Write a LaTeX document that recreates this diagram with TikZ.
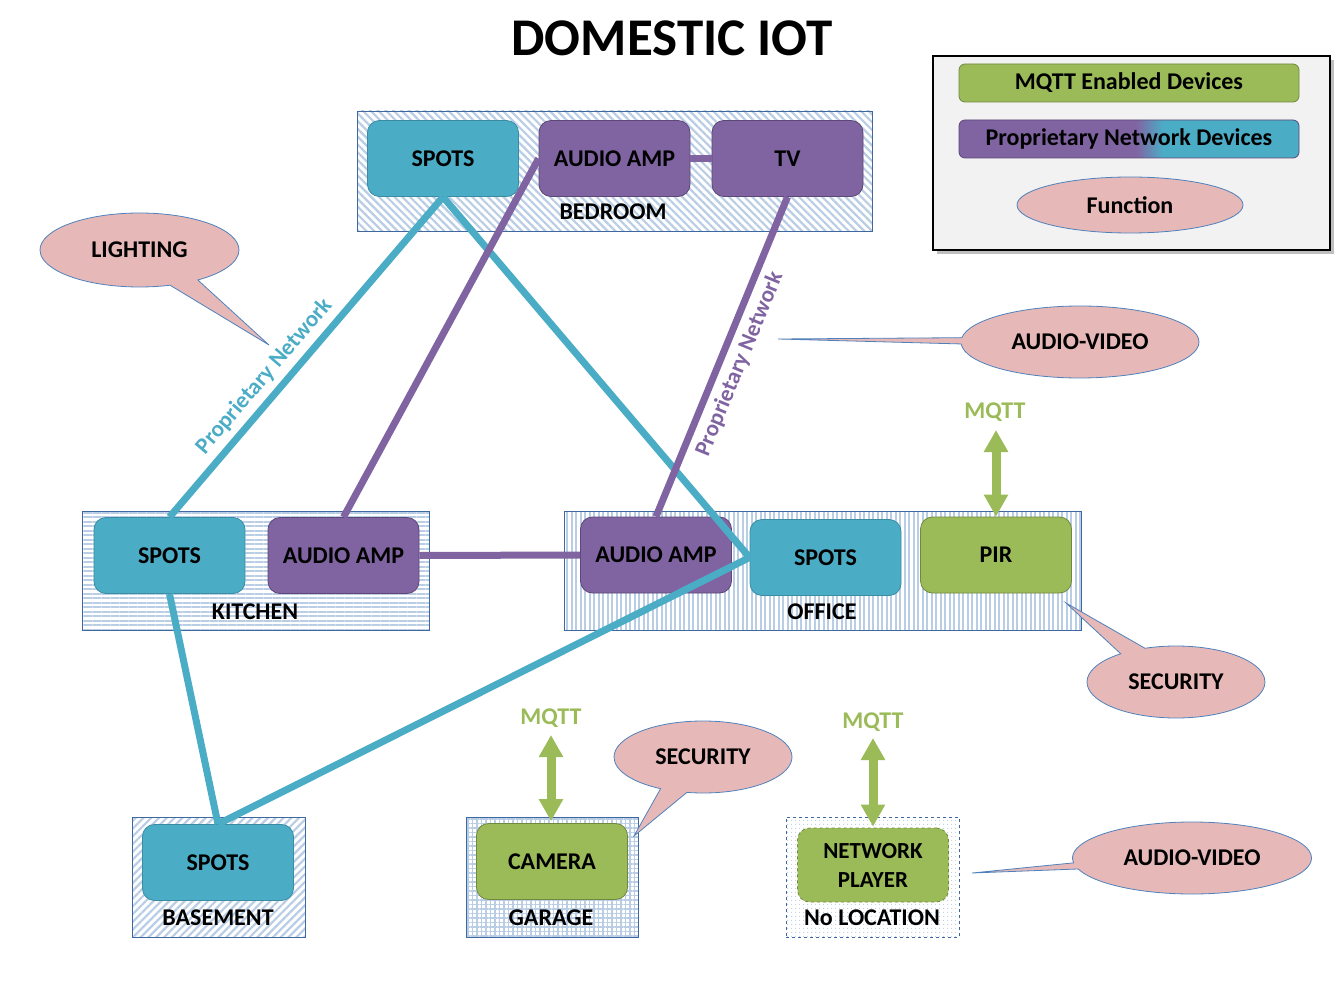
\documentclass[tikz,border=0pt]{standalone}
\usepackage{fontspec}
\setmainfont{Carlito}
\usetikzlibrary{arrows.meta,patterns.meta,shapes.callouts,shapes.geometric,shadows}
\definecolor{cblue}{HTML}{4BACC6}
\definecolor{cbluedk}{HTML}{3A8CA3}
\definecolor{cpurple}{HTML}{8064A2}
\definecolor{cpurpdk}{HTML}{5C4776}
\definecolor{cgreen}{HTML}{9BBB59}
\definecolor{cgreendk}{HTML}{71893F}
\definecolor{cpink}{HTML}{E6B9B8}
\definecolor{cedge}{HTML}{4F81BD}
\definecolor{cpat}{HTML}{B9CDE5}
\definecolor{cbox}{HTML}{3F67A0}
\definecolor{clegbg}{HTML}{F2F2F2}
\pgfdeclarehorizontalshading{propshade}{100bp}{color(0bp)=(cpurple); color(51bp)=(cpurple); color(55bp)=(cblue); color(100bp)=(cblue)}
\tikzset{
 dev/.style={rectangle, rounded corners=12pt, minimum width=151pt, minimum height=76pt, line width=0.8pt, font=\bfseries\fontsize{24}{26}\selectfont, text=black, inner sep=0pt, align=center},
 spotsbox/.style={dev, fill=cblue, draw=cbluedk},
 purpbox/.style={dev, fill=cpurple, draw=cpurpdk},
 greenbox/.style={dev, fill=cgreen, draw=cgreendk},
 room/.style={rectangle, draw=cbox, line width=0.8pt, inner sep=0pt},
 roomlabel/.style={font=\bfseries\fontsize{24}{26}\selectfont, inner sep=0pt},
 bluelink/.style={draw=cblue, line width=7pt},
 purplink/.style={draw=cpurple, line width=7pt},
 mqttarrow/.style={draw=cgreen, line width=9pt, {Triangle[width=23pt,length=22pt]}-{Triangle[width=23pt,length=22pt]}},
 mqttlabel/.style={text=cgreen, font=\bfseries\fontsize{24}{26}\selectfont, inner sep=0pt},
 func/.style={ellipse callout, callout pointer arc=18, fill=cpink, draw=cedge, line width=0.8pt, font=\bfseries\fontsize{24}{26}\selectfont, inner sep=0pt},
 netlabel/.style={font=\bfseries\fontsize{23}{26}\selectfont, sloped, inner sep=6pt},
 legitem/.style={rectangle, rounded corners=6pt, minimum width=340pt, minimum height=38pt, line width=0.8pt, font=\bfseries\fontsize{24}{26}\selectfont, inner sep=0pt},
}
\begin{document}
\begin{tikzpicture}[x=1pt,y=-1pt]
\useasboundingbox (0,0) rectangle (1344,1008);
% title
\node[font=\bfseries\fontsize{53}{58}\selectfont, inner sep=0pt] (title) at (672,38) {DOMESTIC IOT};
% legend
\node[rectangle, minimum width=397pt, minimum height=194pt, fill=clegbg, draw=black, line width=1.2pt,
  drop shadow={shadow xshift=4pt, shadow yshift=-4pt, opacity=0.5, fill=gray}] (legend) at (1131.5,153) {};
\node[legitem, fill=cgreen, draw=cgreendk] (legmqtt) at (1129,83) {MQTT Enabled Devices};
\node[legitem, shade, shading=propshade, draw=cpurpdk] (legprop) at (1129,139) {Proprietary Network Devices};
\node[ellipse, minimum width=226pt, minimum height=56pt, fill=cpink, draw=cedge, line width=0.8pt, inner sep=0pt, font=\bfseries\fontsize{24}{26}\selectfont] (legfunc) at (1130,205) {Function};
% rooms
\node[room, minimum width=515pt, minimum height=120pt, pattern={Lines[angle=-45, distance=5.5pt, line width=2.2pt]}, pattern color=cpat] (bedroom) at (614.5,171) {};
\node[room, minimum width=347pt, minimum height=119pt, pattern={Lines[angle=0, distance=4.5pt, line width=2pt]}, pattern color=cpat] (kitchen) at (255.5,570.5) {};
\node[room, minimum width=517pt, minimum height=119pt, pattern={Lines[angle=90, distance=4.5pt, line width=2pt]}, pattern color=cpat] (office) at (822.5,570.5) {};
\node[room, minimum width=173pt, minimum height=120pt, pattern={Lines[angle=45, distance=5.5pt, line width=2.2pt]}, pattern color=cpat] (basement) at (218.5,877) {};
\node[room, minimum width=172pt, minimum height=120pt, pattern={Hatch[angle=0, distance=4.5pt, line width=1.2pt]}, pattern color=cpat] (garage) at (552,877) {};
\node[room, dashed, minimum width=173pt, minimum height=120pt, pattern={Dots[distance=4pt, radius=0.7pt]}, pattern color=cpat] (noloc) at (872.5,877) {};
% devices
\node[spotsbox] (bspots) at (443,158.5) {SPOTS};
\node[purpbox] (bamp) at (614.5,158.5) {AUDIO AMP};
\node[purpbox] (tv) at (787.5,158.5) {TV};
\node[spotsbox] (kspots) at (169.5,555.5) {SPOTS};
\node[purpbox] (kamp) at (343.5,555.5) {AUDIO AMP};
\node[purpbox] (oamp) at (656,555) {AUDIO AMP};
\node[spotsbox] (ospots) at (825.5,557.5) {SPOTS};
\node[greenbox] (pir) at (996,555) {PIR};
\node[spotsbox] (bsspots) at (218,862.5) {SPOTS};
\node[greenbox] (camera) at (552,861.5) {CAMERA};
\node[greenbox, dashed, minimum height=74pt, font=\bfseries\fontsize{23}{29}\selectfont] (player) at (873,865) {NETWORK\\PLAYER};
% links
\draw[bluelink] (kspots.north) -- node[netlabel, pos=0.4, above, text=cblue] (netlab1) {Proprietary Network} (bspots.south);
\draw[bluelink] (bspots.south) -- (ospots.west);
\draw[purplink] (bamp.west) -- (kamp.north);
\draw[purplink] (oamp.north) -- node[netlabel, pos=0.5, below, text=cpurple] (netlab2) {Proprietary Network} (tv.south);
\draw[purplink] (bamp.east) -- (tv.west);
\draw[purplink] (kamp.east) -- (oamp.west);
\draw[bluelink] (kspots.south) -- (bsspots.north);
\draw[bluelink] (bsspots.north) -- (ospots.west);
% room labels
\node[roomlabel] (lbedroom) at (613,212) {BEDROOM};
\node[roomlabel] (lkitchen) at (255,612) {KITCHEN};
\node[roomlabel] (loffice) at (822,612) {OFFICE};
\node[roomlabel] (lbasement) at (218,918) {BASEMENT};
\node[roomlabel] (lgarage) at (551,918) {GARAGE};
\node[roomlabel] (lnoloc) at (872,918) {No LOCATION};
% MQTT
\node[mqttlabel] (mq1) at (995,412) {MQTT};
\coordinate (mq1end) at (996,430);
\draw[mqttarrow] (mq1end) -- (pir.north);
\node[mqttlabel] (mq2) at (551,718) {MQTT};
\coordinate (mq2end) at (551,735);
\draw[mqttarrow] (mq2end) -- ([xshift=-1pt,yshift=2pt]camera.north);
\node[mqttlabel] (mq3) at (873,722) {MQTT};
\coordinate (mq3end) at (873,738);
\draw[mqttarrow] (mq3end) -- ([yshift=1pt]player.north);
% functions
\node[func, minimum width=199pt, minimum height=74pt, callout absolute pointer={(269,345)}] (lighting) at (139.5,250) {LIGHTING};
\node[func, minimum width=238pt, minimum height=72pt, callout absolute pointer={(778,339)}, callout pointer arc=10] (av1) at (1080,342) {AUDIO-VIDEO};
\node[func, minimum width=178pt, minimum height=72pt, callout absolute pointer={(1066,603)}] (sec1) at (1176,682) {SECURITY};
\node[func, minimum width=178pt, minimum height=72pt, callout absolute pointer={(634,836)}] (sec2) at (703,757) {SECURITY};
\node[func, minimum width=239pt, minimum height=72pt, callout absolute pointer={(972,873)}, callout pointer arc=10] (av2) at (1192,858) {AUDIO-VIDEO};
\end{tikzpicture}
\end{document}
